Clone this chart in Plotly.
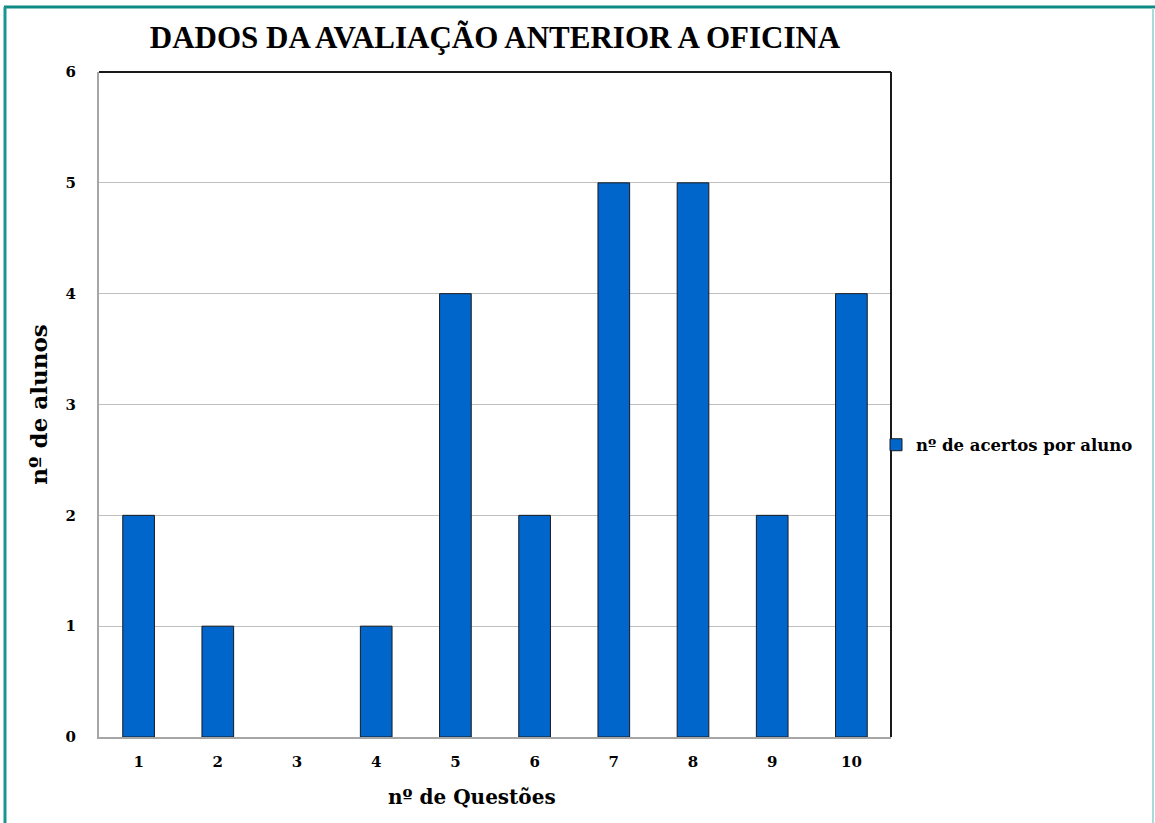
import plotly.graph_objects as go

questoes = ["1", "2", "3", "4", "5", "6", "7", "8", "9", "10"]
acertos = [2, 1, 0, 1, 4, 2, 5, 5, 2, 4]
serie_nome = "nº de acertos por aluno"
titulo = "DADOS DA AVALIAÇÃO ANTERIOR A OFICINA"
titulo_x = "nº de Questões"
titulo_y = "nº de alunos"

W, H = 1155, 823
L, R, T, B = 99, 891, 72, 737

def px(x):
    return (x - L) / (R - L)

def py(y):
    return (B - y) / (B - T)

serif = "DejaVu Serif"

fig = go.Figure()
fig.add_trace(go.Bar(
    x=questoes, y=acertos, name=serie_nome,
    marker=dict(color="#0066CC",
                line=dict(color="#1a1a1a", width=[0 if v == 0 else 1 for v in acertos])),
    showlegend=True,
))

fig.update_layout(
    width=W, height=H,
    margin=dict(l=L, r=W - R, t=T, b=H - B, autoexpand=False),
    paper_bgcolor="white", plot_bgcolor="white",
    bargap=0.6,
    title=dict(text=titulo, x=0.5, xref="paper", xanchor="center",
               y=1 - 37 / H, yanchor="middle",
               font=dict(family="Liberation Serif", size=31, color="black", weight="bold")),
    showlegend=True,
    legend=dict(x=px(876), xanchor="left", y=py(445), yanchor="middle",
                bgcolor="rgba(0,0,0,0)", borderwidth=0,
                font=dict(family=serif, size=16.5, color="black", weight="bold")),
    xaxis=dict(
        type="category", showline=True, linecolor="#A6A6A6", linewidth=2,
        ticks="outside", ticklen=10, tickcolor="rgba(0,0,0,0)",
        tickfont=dict(family=serif, size=15, color="black", weight="bold"),
        showgrid=False, zeroline=False,
    ),
    yaxis=dict(
        range=[0, 6], dtick=1, showline=True, linecolor="#A6A6A6", linewidth=2,
        ticks="outside", ticklen=18, tickcolor="rgba(0,0,0,0)",
        tickfont=dict(family=serif, size=15, color="black", weight="bold"),
        showgrid=True, gridcolor="#BFBFBF", gridwidth=1, zeroline=False,
        title=dict(text=titulo_y, standoff=12,
                   font=dict(family=serif, size=23, color="black", weight="bold")),
    ),
    annotations=[
        dict(text=titulo_x, xref="paper", yref="paper", x=px(472), y=py(797),
             xanchor="center", yanchor="middle", showarrow=False,
             font=dict(family=serif, size=20, color="black", weight="bold")),
    ],
    shapes=[
        dict(type="line", xref="paper", yref="paper", x0=0, x1=1, y0=1, y1=1,
             line=dict(color="#1a1a1a", width=2)),
        dict(type="line", xref="paper", yref="paper", x0=1, x1=1, y0=0, y1=1,
             line=dict(color="#1a1a1a", width=2)),
        dict(type="line", xref="paper", yref="paper", x0=px(4), x1=px(1155), y0=py(7), y1=py(7),
             line=dict(color="#0E8A84", width=3)),
        dict(type="line", xref="paper", yref="paper", x0=px(5), x1=px(5), y0=py(7), y1=py(830),
             line=dict(color="#1A9690", width=3)),
        dict(type="line", xref="paper", yref="paper", x0=px(1153), x1=px(1153), y0=py(8), y1=py(830),
             line=dict(color="#A6DCDA", width=2)),
    ],
)

fig.write_html("out.html", config={"displayModeBar": False},
               post_script="document.body.style.margin='0';document.body.style.overflow='hidden';")
